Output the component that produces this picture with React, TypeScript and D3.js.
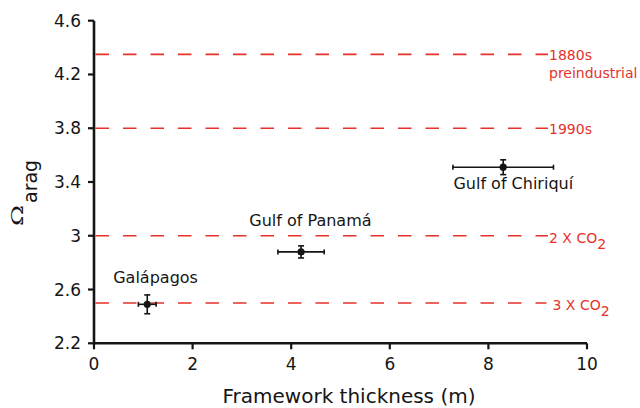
import React, { useEffect } from "react";
import * as d3 from "d3";

const sites = ["Galápagos", "Gulf of Panamá", "Gulf of Chiriquí"];
const thickness = [1.08, 4.2, 8.3];
const thicknessErr = [0.18, 0.47, 1.02];
const omega = [2.49, 2.88, 3.51];
const omegaErr = [0.07, 0.045, 0.055];
// label anchor (start of text, baseline) in data units
const labelX = [0.39, 3.15, 7.29];
const labelY = [2.646, 3.072, 3.345];

const refValues = [4.35, 3.8, 3.0, 2.5];
const refLabels = ["1880s", "1990s", "2 X CO", "3 X CO"];
const refSubs = ["", "", "2", "2"];
const refSecondLine = ["preindustrial", "", "", ""];

const xTicks = [0, 2, 4, 6, 8, 10];
const yTicks = [2.2, 2.6, 3.0, 3.4, 3.8, 4.2, 4.6];

const W = 640;
const H = 408;
const RED = "#e6322b";
const INK = "#151515";
const FONT = "DejaVu Sans, sans-serif";

export default function App() {
  useEffect(() => {
    document.body.style.margin = "0";
  }, []);

  const x = d3.scaleLinear().domain([0, 10]).range([94, 587]);
  const y = d3.scaleLinear().domain([2.2, 4.6]).range([343.3, 20.7]);
  const lineEnd = 548;

  return (
    <svg
      width={W}
      height={H}
      style={{ position: "fixed", left: 0, top: 0, display: "block", background: "#fff" }}
    >
      {/* reference dashed lines */}
      {refValues.map((v, i) => (
        <g key={"ref" + i}>
          <line
            x1={x(0) + 1.5}
            x2={i === 3 ? lineEnd - 1.5 : lineEnd}
            y1={y(v)}
            y2={y(v)}
            stroke={RED}
            strokeWidth={1.7}
            strokeDasharray="13.5,14"
          />
          <text
            x={i === 3 ? lineEnd + 4.5 : lineEnd + 1}
            y={y(v) + (refSubs[i] ? 7.5 : 5.5)}
            fill={RED}
            fontFamily={FONT}
            fontSize={14}
          >
            {refLabels[i]}
            {refSubs[i] ? (
              <tspan dy={5.5} fontSize={14}>
                {refSubs[i]}
              </tspan>
            ) : null}
          </text>
          {refSecondLine[i] ? (
            <text x={lineEnd + 1} y={y(v) + 24} fill={RED} fontFamily={FONT} fontSize={14}>
              {refSecondLine[i]}
            </text>
          ) : null}
        </g>
      ))}

      {/* axes */}
      <line x1={x(0)} x2={x(10)} y1={y(2.2)} y2={y(2.2)} stroke={INK} strokeWidth={2.6} />
      <line x1={x(0)} x2={x(0)} y1={y(2.2) + 1.3} y2={y(4.6)} stroke={INK} strokeWidth={2.6} />
      {xTicks.map((t) => (
        <g key={"xt" + t}>
          <line x1={x(t)} x2={x(t)} y1={y(2.2)} y2={y(2.2) + 6} stroke={INK} strokeWidth={2.2} />
          <text
            x={x(t)}
            y={y(2.2) + 26.7}
            textAnchor="middle"
            fontFamily={FONT}
            fontSize={17}
            fill={INK}
          >
            {d3.format("~g")(t)}
          </text>
        </g>
      ))}
      {yTicks.map((t) => (
        <g key={"yt" + t}>
          <line x1={x(0) - 6} x2={x(0)} y1={y(t)} y2={y(t)} stroke={INK} strokeWidth={2.2} />
          <text
            x={x(0) - 13}
            y={y(t) + 6}
            textAnchor="end"
            fontFamily={FONT}
            fontSize={17}
            fill={INK}
          >
            {d3.format("~g")(t)}
          </text>
        </g>
      ))}

      {/* axis titles */}
      <text
        x={349}
        y={403}
        textAnchor="middle"
        fontFamily={FONT}
        fontSize={20}
        fill={INK}
      >
        Framework thickness (m)
      </text>
      <g transform="translate(23.3,226) rotate(-90)">
        <text
          x={0}
          y={0}
          transform="scale(1.5,1)"
          fontFamily="DejaVu Serif, serif"
          fontSize={17}
          fill={INK}
        >
          Ω
        </text>
        <text x={23} y={14} fontFamily={FONT} fontSize={19} fill={INK}>
          arag
        </text>
      </g>

      {/* data points with error bars */}
      {sites.map((s, i) => {
        const cx = x(thickness[i]);
        const cy = y(omega[i]);
        const x0 = x(thickness[i] - thicknessErr[i]);
        const x1 = x(thickness[i] + thicknessErr[i]);
        const y0 = y(omega[i] - omegaErr[i]);
        const y1 = y(omega[i] + omegaErr[i]);
        return (
          <g key={"pt" + i} stroke={INK} strokeWidth={1.6}>
            <line x1={x0} x2={x1} y1={cy} y2={cy} />
            <line x1={x0} x2={x0} y1={cy - 2.5} y2={cy + 2.5} />
            <line x1={x1} x2={x1} y1={cy - 2.5} y2={cy + 2.5} />
            <line x1={cx} x2={cx} y1={y0} y2={y1} />
            <line x1={cx - 3} x2={cx + 3} y1={y0} y2={y0} />
            <line x1={cx - 3} x2={cx + 3} y1={y1} y2={y1} />
            <circle cx={cx} cy={cy} r={3.6} fill={INK} stroke="none" />
            <text
              x={x(labelX[i])}
              y={y(labelY[i])}
              stroke="none"
              fill={INK}
              fontFamily={FONT}
              fontSize={16}
            >
              {s}
            </text>
          </g>
        );
      })}
    </svg>
  );
}
